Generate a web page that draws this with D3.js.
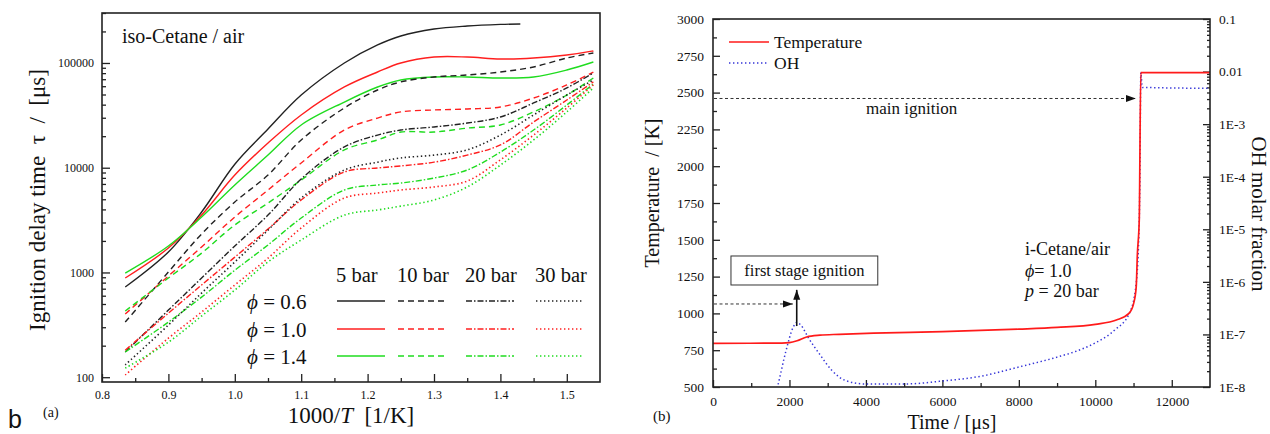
<!DOCTYPE html>
<html>
<head>
<meta charset="utf-8">
<script src="https://cdn.jsdelivr.net/npm/d3@7"></script>
<style>
body { margin: 0; background: #fff; }
text { font-family: "Liberation Serif", "Times New Roman", serif; fill: #111; }
</style>
</head>
<body>
<svg id="chart" width="1270" height="434"></svg>
<script>
// ---------- panel (a): ignition delay time vs 1000/T ----------
var invT = [0.835, 0.90, 0.95, 1.00, 1.05, 1.10, 1.165, 1.215, 1.25, 1.30, 1.35, 1.40, 1.45, 1.50, 1.54];
var invTLean5 = [0.835, 0.90, 0.95, 1.00, 1.05, 1.10, 1.165, 1.215, 1.25, 1.30, 1.35, 1.40, 1.43];

var tau06_5  = [726, 1570, 3780, 10800, 23400, 49400, 100000, 148600, 181100, 211100, 225400, 233400, 235800];
var tau10_5  = [885, 1710, 3530, 8510, 17200, 31900, 59000, 82000, 100000, 114000, 114000, 109200, 111600, 119100, 130300];
var tau14_5  = [987, 1790, 3380, 6840, 13200, 25600, 42400, 59000, 68800, 73500, 73500, 71900, 73500, 85700, 102200];
var tau06_10 = [336, 1010, 2330, 4700, 8510, 18400, 37200, 55200, 65900, 73500, 76800, 82000, 91600, 111600, 124600];
var tau10_10 = [401, 925, 1750, 3380, 6130, 11100, 22900, 29800, 34100, 35600, 36400, 38000, 46300, 61700, 82000];
var tau14_10 = [428, 885, 1530, 2840, 4600, 7620, 14800, 18400, 21900, 21900, 23900, 25600, 34100, 49400, 71900];
var tau06_20 = [174, 437, 885, 1790, 3530, 7800, 15800, 20500, 22900, 24500, 26700, 30500, 41500, 57700, 80300];
var tau10_20 = [181, 409, 759, 1400, 2600, 4920, 9100, 9940, 10400, 11300, 13200, 16500, 27300, 44300, 65900];
var tau14_20 = [174, 336, 582, 1050, 1830, 3310, 6130, 6840, 7140, 7970, 9500, 14100, 22900, 39700, 63000];
var tau06_30 = [131, 315, 636, 1260, 2540, 5140, 9500, 11300, 12400, 13200, 14800, 20500, 31900, 49400, 68800];
var tau10_30 = [105, 236, 419, 759, 1370, 2660, 5140, 5730, 6130, 6550, 7460, 11900, 20500, 37200, 61700];
var tau14_30 = [122, 216, 384, 679, 1260, 2040, 3530, 3950, 4300, 4920, 6550, 10600, 18400, 34100, 57700];

var pressures = ["5 bar", "10 bar", "20 bar", "30 bar"];
var phis = ["0.6", "1.0", "1.4"];
var invTTicks = [0.8, 0.9, 1.0, 1.1, 1.2, 1.3, 1.4, 1.5];
var tauTicks = [100, 1000, 10000, 100000];

// ---------- panel (b): temperature and OH vs time ----------
var timeT = [0, 1800, 2000, 2200, 2450, 2800, 3300, 4200, 6000, 8000, 9000, 10000, 10550, 10880, 11000, 11070, 11100, 11150, 11190, 13000];
var temperature = [797, 798, 801, 814, 840, 852, 858, 866, 876, 893, 905, 926, 955, 1000, 1065, 1180, 1400, 1640, 2636, 2636];

var timeOH = [1650, 1700, 1900, 2100, 2200, 2300, 2500, 2800, 3100, 3500, 4000, 5000, 6000, 7000, 8000, 9000, 9500, 10000, 10500, 10900, 11070, 11150, 11170, 11190, 11230, 13000];
var ohFraction = [8e-9, 1.1e-8, 4.6e-8, 1.38e-7, 1.7e-7, 1.5e-7, 8.5e-8, 4.1e-8, 2.1e-8, 1.3e-8, 1.14e-8, 1.14e-8, 1.3e-8, 1.6e-8, 2.4e-8, 3.7e-8, 4.8e-8, 6.9e-8, 1.2e-7, 2.6e-7, 9.5e-7, 1.5e-5, 2e-4, 9.5e-3, 5e-3, 4.8e-3];

var timeTicks = [0, 2000, 4000, 6000, 8000, 10000, 12000];
var tempTicks = [500, 750, 1000, 1250, 1500, 1750, 2000, 2250, 2500, 2750, 3000];
var ohTicks = [1e-8, 1e-7, 1e-6, 1e-5, 1e-4, 1e-3, 1e-2, 1e-1];
var ohTickLabels = ["1E-8", "1E-7", "1E-6", "1E-5", "1E-4", "1E-3", "0.01", "0.1"];

// annotations, in data units of panel (b)
var mainIgnition = {t0: 0, t1: 11060, T: 2460};
var firstStage = {t0: 0, t1: 2090, T: 1064, tUp: 2190, Tlow: 914, Thigh: 1160};
var firstStageBox = {t0: 470, t1: 4310, Tlow: 1193, Thigh: 1390};

var svg = d3.select("#chart");
var defs = svg.append("defs");
defs.append("marker").attr("id", "arrow")
    .attr("markerUnits", "userSpaceOnUse")
    .attr("markerWidth", 11).attr("markerHeight", 8)
    .attr("refX", 10).attr("refY", 4).attr("orient", "auto")
    .append("path").attr("d", "M0,0.5 L10,4 L0,7.5 Z").attr("fill", "#111");

var phiColors = ["#222222", "#ff1f1f", "#1fdc1f"];
var pDashes = [null, "6,4", "6,2,1.5,2", "1.4,2.6"];

// ===== panel (a) =====
var A = {left: 102, right: 600, top: 13, bottom: 382};
var xA = d3.scaleLinear().domain([0.8, 1.55]).range([A.left, A.right]);
var yA = d3.scaleLog().domain([90, 300000]).range([A.bottom, A.top]);

defs.append("clipPath").attr("id", "clipA").append("rect")
    .attr("x", A.left).attr("y", A.top).attr("width", A.right - A.left).attr("height", A.bottom - A.top);

var gA = svg.append("g");

// minor ticks
var minorX = d3.range(0.85, 1.55, 0.1);
gA.append("g").attr("transform", "translate(0," + A.bottom + ")")
    .call(d3.axisBottom(xA).tickValues(minorX).tickFormat("").tickSizeInner(-4).tickSizeOuter(0))
    .call(function (g) { g.select(".domain").remove(); });
var minorY = [];
[100, 1000, 10000, 100000].forEach(function (d) {
    for (var k = 2; k <= 9; k++) { if (d * k <= 300000) minorY.push(d * k); }
});
gA.append("g").attr("transform", "translate(" + A.left + ",0)")
    .call(d3.axisLeft(yA).tickValues(minorY).tickFormat("").tickSizeInner(-4).tickSizeOuter(0))
    .call(function (g) { g.select(".domain").remove(); });

// major ticks
gA.append("g").attr("transform", "translate(0," + A.bottom + ")")
    .call(d3.axisBottom(xA).tickValues(invTTicks).tickFormat(d3.format(".1f")).tickSizeInner(-8).tickSizeOuter(0).tickPadding(8))
    .call(function (g) { g.select(".domain").remove(); g.selectAll("text").style("font-size", "12px").style("font-family", "Liberation Serif"); });
gA.append("g").attr("transform", "translate(" + A.left + ",0)")
    .call(d3.axisLeft(yA).tickValues(tauTicks).tickFormat(d3.format("d")).tickSizeInner(-8).tickSizeOuter(0).tickPadding(8))
    .call(function (g) { g.select(".domain").remove(); g.selectAll("text").style("font-size", "12px").style("font-family", "Liberation Serif"); });
gA.selectAll(".tick line").attr("stroke", "#222").attr("stroke-width", 1.3);

var lineA = d3.line()
    .x(function (d) { return xA(d[0]); })
    .y(function (d) { return yA(d[1]); })
    .curve(d3.curveCatmullRom.alpha(0.5));

var delaySeries = [
    {phi: 0, p: 0, x: invTLean5, y: tau06_5},
    {phi: 1, p: 0, x: invT, y: tau10_5},
    {phi: 2, p: 0, x: invT, y: tau14_5},
    {phi: 0, p: 1, x: invT, y: tau06_10},
    {phi: 1, p: 1, x: invT, y: tau10_10},
    {phi: 2, p: 1, x: invT, y: tau14_10},
    {phi: 0, p: 2, x: invT, y: tau06_20},
    {phi: 1, p: 2, x: invT, y: tau10_20},
    {phi: 2, p: 2, x: invT, y: tau14_20},
    {phi: 0, p: 3, x: invT, y: tau06_30},
    {phi: 1, p: 3, x: invT, y: tau10_30},
    {phi: 2, p: 3, x: invT, y: tau14_30}
];

var curvesA = gA.append("g").attr("clip-path", "url(#clipA)");
delaySeries.forEach(function (s) {
    var pts = s.x.map(function (v, i) { return [v, s.y[i]]; });
    curvesA.append("path")
        .attr("d", lineA(pts))
        .attr("fill", "none")
        .attr("stroke", phiColors[s.phi])
        .attr("stroke-width", s.p == 3 ? 1.6 : 1.4)
        .attr("stroke-dasharray", pDashes[s.p]);
});

gA.append("rect").attr("x", A.left).attr("y", A.top)
    .attr("width", A.right - A.left).attr("height", A.bottom - A.top)
    .attr("fill", "none").attr("stroke", "#222").attr("stroke-width", 1.6);

gA.append("text").attr("x", 122).attr("y", 43).style("font-size", "20px").text("iso-Cetane / air");

// legend of panel (a)
var legX = [336, 397, 465, 535];
var legRowY = [301, 329, 356];
pressures.forEach(function (p, j) {
    gA.append("text").attr("x", legX[j]).attr("y", 282).style("font-size", "20.5px").text(p);
});
phis.forEach(function (ph, i) {
    var t = gA.append("text").attr("x", 247).attr("y", legRowY[i] + 8).style("font-size", "21px");
    t.append("tspan").style("font-style", "italic").text("\u03d5");
    t.append("tspan").text(" = " + ph);
    pressures.forEach(function (p, j) {
        gA.append("line")
            .attr("x1", legX[j] + 1).attr("x2", legX[j] + 49)
            .attr("y1", legRowY[i]).attr("y2", legRowY[i])
            .attr("stroke", phiColors[i]).attr("stroke-width", j == 3 ? 1.6 : 1.4)
            .attr("stroke-dasharray", pDashes[j]);
    });
});

// axis titles (a)
gA.append("text").attr("transform", "translate(45,200) rotate(-90)")
    .attr("text-anchor", "middle").style("font-size", "23px")
    .text("Ignition delay time\u00a0\u00a0\u03c4\u00a0\u00a0/\u00a0\u00a0[\u03bcs]");
var xt = gA.append("text").attr("x", 351).attr("y", 423).attr("text-anchor", "middle").style("font-size", "23px");
xt.append("tspan").text("1000/");
xt.append("tspan").style("font-style", "italic").text("T");
xt.append("tspan").text("\u00a0\u00a0[1/K]");
gA.append("text").attr("x", 43).attr("y", 417).style("font-size", "14px").text("(a)");
svg.append("text").attr("x", 8).attr("y", 428)
    .style("font-family", "Liberation Sans, Arial, sans-serif").style("font-size", "25px").text("b");

// ===== panel (b) =====
var B = {left: 713, right: 1210, top: 19, bottom: 387};
var xB = d3.scaleLinear().domain([0, 13000]).range([B.left, B.right]);
var yT = d3.scaleLinear().domain([500, 3000]).range([B.bottom, B.top]);
var yOH = d3.scaleLog().domain([1e-8, 0.1]).range([B.bottom, B.top]);

defs.append("clipPath").attr("id", "clipB").append("rect")
    .attr("x", B.left).attr("y", B.top).attr("width", B.right - B.left).attr("height", B.bottom - B.top);

var gB = svg.append("g");
var tickFont = function (g) {
    g.select(".domain").remove();
    g.selectAll("text").style("font-size", "13.5px").style("font-family", "Liberation Serif");
};

// minor ticks
gB.append("g").attr("transform", "translate(0," + B.bottom + ")")
    .call(d3.axisBottom(xB).tickValues(d3.range(1000, 13000, 2000)).tickFormat("").tickSizeInner(-4).tickSizeOuter(0))
    .call(tickFont);
gB.append("g").attr("transform", "translate(" + B.left + ",0)")
    .call(d3.axisLeft(yT).tickValues(d3.range(625, 3000, 250)).tickFormat("").tickSizeInner(-4).tickSizeOuter(0))
    .call(tickFont);
var minorOH = [];
ohTicks.slice(0, -1).forEach(function (d) {
    for (var k = 2; k <= 9; k++) minorOH.push(d * k);
});
gB.append("g").attr("transform", "translate(" + B.right + ",0)")
    .call(d3.axisRight(yOH).tickValues(minorOH).tickFormat("").tickSizeInner(-3).tickSizeOuter(0))
    .call(tickFont);

// major ticks
gB.append("g").attr("transform", "translate(0," + B.bottom + ")")
    .call(d3.axisBottom(xB).tickValues(timeTicks).tickFormat(d3.format("d")).tickSizeInner(-7).tickSizeOuter(0).tickPadding(9))
    .call(tickFont);
gB.append("g").attr("transform", "translate(" + B.left + ",0)")
    .call(d3.axisLeft(yT).tickValues(tempTicks).tickFormat(d3.format("d")).tickSizeInner(-7).tickSizeOuter(0).tickPadding(9))
    .call(tickFont);
gB.append("g").attr("transform", "translate(" + B.right + ",0)")
    .call(d3.axisRight(yOH).tickValues(ohTicks).tickFormat(function (d, i) { return ohTickLabels[i]; })
        .tickSizeInner(-7).tickSizeOuter(0).tickPadding(9))
    .call(tickFont);
gB.selectAll(".tick line").attr("stroke", "#222").attr("stroke-width", 1.3);

var curvesB = gB.append("g").attr("clip-path", "url(#clipB)");

var lineTemp = d3.line()
    .x(function (d) { return xB(d[0]); })
    .y(function (d) { return yT(d[1]); })
    .curve(d3.curveMonotoneX);
var lineOH = d3.line()
    .x(function (d) { return xB(d[0]); })
    .y(function (d) { return yOH(d[1]); })
    .curve(d3.curveMonotoneX);

curvesB.append("path")
    .attr("d", lineOH(timeOH.map(function (t, i) { return [t, ohFraction[i]]; })))
    .attr("fill", "none").attr("stroke", "#3535d8").attr("stroke-width", 1.5)
    .attr("stroke-dasharray", "1.4,2.6");
curvesB.append("path")
    .attr("d", lineTemp(timeT.map(function (t, i) { return [t, temperature[i]]; })))
    .attr("fill", "none").attr("stroke", "#ff1a1a").attr("stroke-width", 1.7);

gB.append("rect").attr("x", B.left).attr("y", B.top)
    .attr("width", B.right - B.left).attr("height", B.bottom - B.top)
    .attr("fill", "none").attr("stroke", "#222").attr("stroke-width", 1.6);

// annotations
gB.append("line")
    .attr("x1", xB(mainIgnition.t0) + 1).attr("x2", xB(mainIgnition.t1))
    .attr("y1", yT(mainIgnition.T)).attr("y2", yT(mainIgnition.T))
    .attr("stroke", "#333").attr("stroke-width", 1).attr("stroke-dasharray", "3,2.5")
    .attr("marker-end", "url(#arrow)");
gB.append("text").attr("x", 866).attr("y", 114).style("font-size", "17px").text("main ignition");

gB.append("line")
    .attr("x1", xB(firstStage.t0) + 1).attr("x2", xB(firstStage.t1))
    .attr("y1", yT(firstStage.T)).attr("y2", yT(firstStage.T))
    .attr("stroke", "#333").attr("stroke-width", 1).attr("stroke-dasharray", "3,2.5")
    .attr("marker-end", "url(#arrow)");
gB.append("line")
    .attr("x1", xB(firstStage.tUp)).attr("x2", xB(firstStage.tUp))
    .attr("y1", yT(firstStage.Tlow)).attr("y2", yT(firstStage.Thigh))
    .attr("stroke", "#111").attr("stroke-width", 1.6)
    .attr("marker-end", "url(#arrow)");
gB.append("rect")
    .attr("x", xB(firstStageBox.t0)).attr("y", yT(firstStageBox.Thigh))
    .attr("width", xB(firstStageBox.t1) - xB(firstStageBox.t0))
    .attr("height", yT(firstStageBox.Tlow) - yT(firstStageBox.Thigh))
    .attr("fill", "#fff").attr("stroke", "#333").attr("stroke-width", 1);
gB.append("text")
    .attr("x", (xB(firstStageBox.t0) + xB(firstStageBox.t1)) / 2).attr("y", 276)
    .attr("text-anchor", "middle").style("font-size", "16.5px").text("first stage ignition");

gB.append("text").attr("x", 1025).attr("y", 255).style("font-size", "18px").text("i-Cetane/air");
var ph = gB.append("text").attr("x", 1025).attr("y", 277).style("font-size", "18px");
ph.append("tspan").style("font-style", "italic").text("\u03d5");
ph.append("tspan").text("= 1.0");
var pp = gB.append("text").attr("x", 1025).attr("y", 297).style("font-size", "18px");
pp.append("tspan").style("font-style", "italic").text("p");
pp.append("tspan").text(" = 20 bar");

// legend of panel (b)
gB.append("line").attr("x1", 729).attr("x2", 769).attr("y1", 42).attr("y2", 42)
    .attr("stroke", "#ff1a1a").attr("stroke-width", 1.7);
gB.append("text").attr("x", 774).attr("y", 48).style("font-size", "17.5px").text("Temperature");
gB.append("line").attr("x1", 729).attr("x2", 769).attr("y1", 63).attr("y2", 63)
    .attr("stroke", "#3535d8").attr("stroke-width", 1.5).attr("stroke-dasharray", "1.4,2.6");
gB.append("text").attr("x", 774).attr("y", 69).style("font-size", "17.5px").text("OH");

// axis titles (b)
gB.append("text").attr("transform", "translate(659,193) rotate(-90)")
    .attr("text-anchor", "middle").style("font-size", "20px").text("Temperature\u00a0\u00a0/ [K]");
gB.append("text").attr("transform", "translate(1252,214) rotate(90)")
    .attr("text-anchor", "middle").style("font-size", "21px").text("OH molar fraction");
gB.append("text").attr("x", 952).attr("y", 429).attr("text-anchor", "middle")
    .style("font-size", "20px").text("Time / [\u03bcs]");
gB.append("text").attr("x", 653).attr("y", 421).style("font-size", "15px").text("(b)");
</script>
</body>
</html>
